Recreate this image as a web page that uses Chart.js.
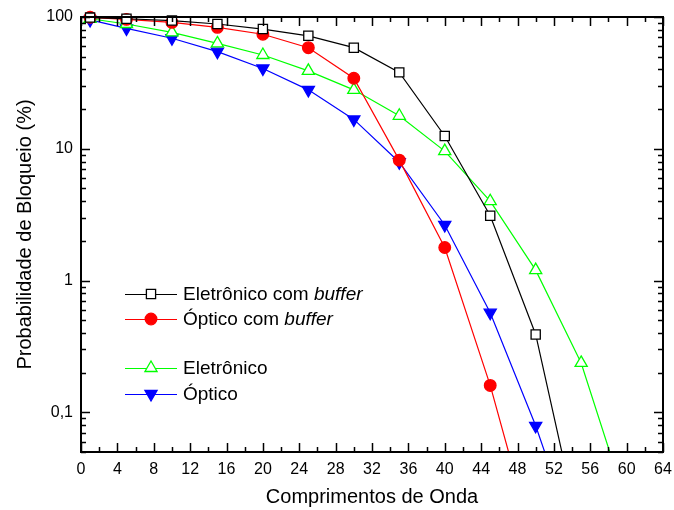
<!DOCTYPE html>
<html>
<head>
<meta charset="utf-8">
<script src="https://cdn.jsdelivr.net/npm/chart.js@4/dist/chart.umd.min.js"></script>
<style>
  html, body { margin: 0; padding: 0; background: #fff; }
</style>
</head>
<body>
<canvas id="chart" width="674" height="510"></canvas>
<script>
// comprimentos de onda (eixo x) e probabilidades de bloqueio (%)
var waveLengths = [1, 5, 10, 15, 20, 25, 30, 35, 40, 45, 50, 55, 60];
var eletronicoBuffer = [99, 97, 94, 88.5, 81, 72, 58.5, 38, 12.5, 3.1, 0.39, 0.011];
var opticoBuffer = [99.5, 96, 91, 83.5, 74, 58.5, 34.3, 8.2, 1.78, 0.16, 0.009];
var eletronico = [97, 88.5, 76.5, 63, 51.5, 39, 28, 17.8, 9.6, 4.0, 1.2, 0.237, 0.02];
var optico = [95, 82, 69, 54.6, 40.7, 28, 16.7, 7.9, 2.64, 0.57, 0.079, 0.0079];

var xMajor = [0, 4, 8, 12, 16, 20, 24, 28, 32, 36, 40, 44, 48, 52, 56, 60, 64];
var yMajor = [0.1, 1, 10, 100];
var yLabels = ['0,1', '1', '10', '100'];

var FONT = 'Liberation Sans, Arial, sans-serif';

function pts(ys) {
  return ys.map(function (y, i) { return { x: waveLengths[i], y: y }; });
}

// minor ticks
var xMinor = [];
for (var i = 2; i < 64; i += 4) xMinor.push(i);
var yMinor = [];
[0.01, 0.1, 1, 10].forEach(function (d) {
  for (var m = 2; m <= 9; m++) {
    var v = +(d * m).toPrecision(3);
    if (v >= 0.05 && v < 100) yMinor.push(v);
  }
});

var frame = {
  id: 'frame',
  afterDatasetsDraw: function (chart) {
    var ctx = chart.ctx, a = chart.chartArea;
    var xs = chart.scales.x, ys = chart.scales.y;
    ctx.save();
    ctx.strokeStyle = '#000';
    ctx.lineWidth = 1.5;
    ctx.beginPath();
    xMajor.forEach(function (v) {
      var p = Math.round(xs.getPixelForValue(v)) + 0.5;
      ctx.moveTo(p, a.bottom); ctx.lineTo(p, a.bottom - 9);
      ctx.moveTo(p, a.top); ctx.lineTo(p, a.top + 9);
    });
    xMinor.forEach(function (v) {
      var p = Math.round(xs.getPixelForValue(v)) + 0.5;
      ctx.moveTo(p, a.bottom); ctx.lineTo(p, a.bottom - 5);
      ctx.moveTo(p, a.top); ctx.lineTo(p, a.top + 5);
    });
    yMajor.forEach(function (v) {
      var p = Math.round(ys.getPixelForValue(v)) + 0.5;
      ctx.moveTo(a.left, p); ctx.lineTo(a.left + 9, p);
      ctx.moveTo(a.right, p); ctx.lineTo(a.right - 9, p);
    });
    yMinor.forEach(function (v) {
      var p = Math.round(ys.getPixelForValue(v)) + 0.5;
      ctx.moveTo(a.left, p); ctx.lineTo(a.left + 5, p);
      ctx.moveTo(a.right, p); ctx.lineTo(a.right - 5, p);
    });
    ctx.stroke();
    ctx.lineWidth = 2;
    ctx.strokeRect(a.left, a.top, a.right - a.left, a.bottom - a.top);
    ctx.restore();
  }
};

var legendBox = {
  id: 'legendBox',
  afterDraw: function (chart) {
    var ctx = chart.ctx;
    var rows = [
      { y: 294, ds: 0, text: 'Eletrônico com ', it: 'buffer' },
      { y: 319, ds: 1, text: 'Óptico com ', it: 'buffer' },
      { y: 368, ds: 2, text: 'Eletrônico', it: '' },
      { y: 394, ds: 3, text: 'Óptico', it: '' }
    ];
    ctx.save();
    rows.forEach(function (r) {
      var d = chart.data.datasets[r.ds];
      ctx.strokeStyle = d.borderColor;
      ctx.lineWidth = 1.2;
      ctx.beginPath();
      ctx.moveTo(125, r.y + 0.5); ctx.lineTo(177, r.y + 0.5);
      ctx.stroke();
      drawMarker(ctx, d, 151, r.y);
      ctx.fillStyle = '#000';
      ctx.textBaseline = 'middle';
      ctx.font = '19px ' + FONT;
      ctx.fillText(r.text, 183, r.y + 1);
      if (r.it) {
        var w = ctx.measureText(r.text).width;
        ctx.font = 'italic 19px ' + FONT;
        ctx.fillText(r.it, 183 + w, r.y + 1);
      }
    });
    ctx.restore();
  }
};

function drawMarker(ctx, d, x, y) {
  var r = d.pointRadius;
  ctx.fillStyle = d.pointBackgroundColor;
  ctx.strokeStyle = d.pointBorderColor;
  ctx.lineWidth = d.pointBorderWidth;
  ctx.beginPath();
  if (d.pointStyle === 'rect') {
    var s = r * Math.SQRT1_2;
    ctx.rect(x - s, y - s, 2 * s, 2 * s);
  } else if (d.pointStyle === 'circle') {
    ctx.arc(x, y, r, 0, Math.PI * 2);
  } else {
    var dir = d.pointRotation === 180 ? -1 : 1;
    ctx.moveTo(x, y - dir * r);
    ctx.lineTo(x - r * 0.866, y + dir * r * 0.5);
    ctx.lineTo(x + r * 0.866, y + dir * r * 0.5);
    ctx.closePath();
  }
  ctx.fill();
  ctx.stroke();
}

function series(label, ys, color, style, radius, fill, rot) {
  return {
    label: label,
    data: pts(ys),
    borderColor: color,
    borderWidth: 1.2,
    pointStyle: style,
    pointRadius: radius,
    pointHoverRadius: radius,
    pointBackgroundColor: fill,
    pointBorderColor: color,
    pointBorderWidth: 1.3,
    pointRotation: rot || 0,
    tension: 0,
    clip: { left: 10, top: 10, right: 0, bottom: 0 }
  };
}

new Chart(document.getElementById('chart'), {
  type: 'line',
  data: {
    datasets: [
      series('Eletrônico com buffer', eletronicoBuffer, '#000000', 'rect', 6.5, '#ffffff'),
      series('Óptico com buffer', opticoBuffer, '#ff0000', 'circle', 5.8, '#ff0000'),
      series('Eletrônico', eletronico, '#00ff00', 'triangle', 7, '#ffffff'),
      series('Óptico', optico, '#0000ff', 'triangle', 7, '#0000ff', 180)
    ]
  },
  options: {
    responsive: false,
    animation: false,
    events: [],
    layout: { padding: { top: 17, right: 11, left: 0, bottom: 0 } },
    plugins: { legend: { display: false }, tooltip: { enabled: false } },
    scales: {
      x: {
        type: 'linear',
        min: 0, max: 64,
        afterBuildTicks: function (s) { s.ticks = xMajor.map(function (v) { return { value: v }; }); },
        afterFit: function (s) { s.height = 58; s.paddingLeft = 0; s.paddingRight = 0; },
        grid: { display: false },
        border: { display: false },
        ticks: { color: '#000', font: { family: FONT, size: 16 }, padding: 0, maxRotation: 0 },
        title: { display: true, text: 'Comprimentos de Onda', color: '#000', font: { family: FONT, size: 20 }, padding: { top: 0, bottom: 1 } }
      },
      y: {
        type: 'logarithmic',
        min: 0.05, max: 100,
        afterBuildTicks: function (s) { s.ticks = yMajor.map(function (v) { return { value: v }; }); },
        afterFit: function (s) { s.width = 81; s.paddingTop = 0; s.paddingBottom = 0; },
        grid: { display: false },
        border: { display: false },
        ticks: {
          color: '#000', font: { family: FONT, size: 16 }, padding: 0,
          callback: function (v) { return yLabels[yMajor.indexOf(v)]; }
        },
        title: { display: true, text: 'Probabilidade de Bloqueio (%)', color: '#000', font: { family: FONT, size: 20 }, padding: { top: 13, bottom: 0 } }
      }
    }
  },
  plugins: [frame, legendBox]
});
</script>
</body>
</html>
